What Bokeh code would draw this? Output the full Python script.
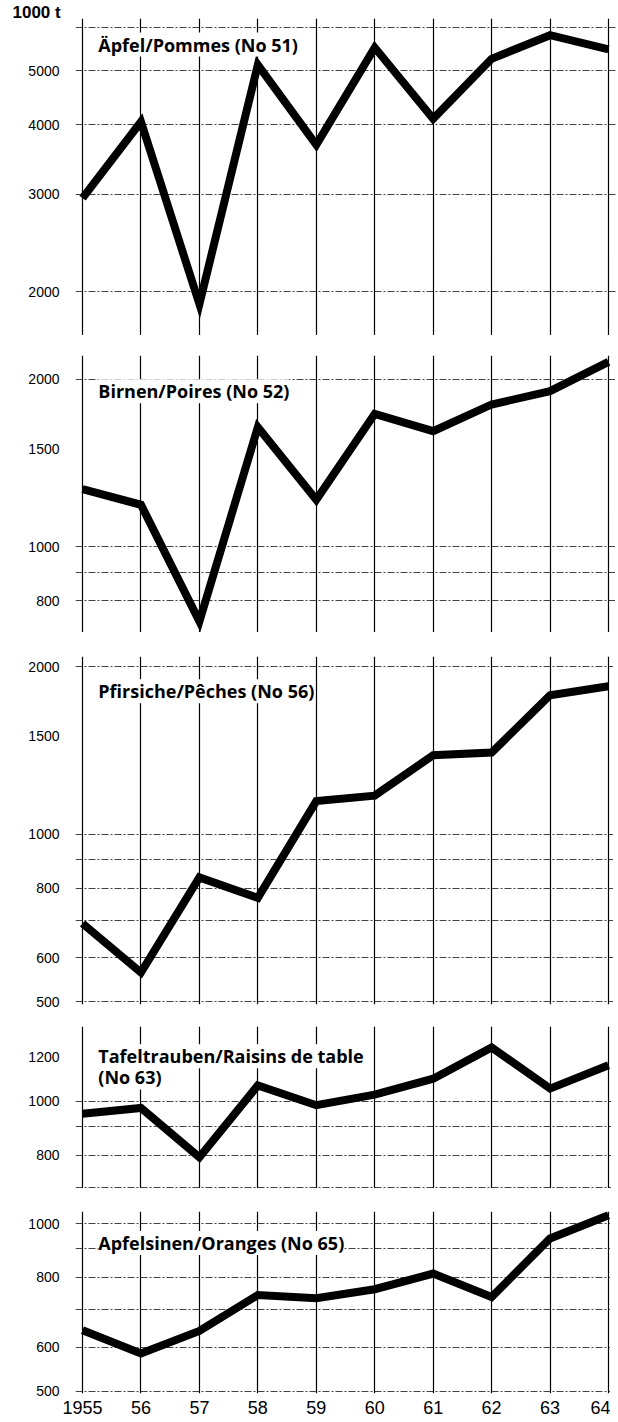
from bokeh.plotting import figure
from bokeh.layouts import column
from bokeh.models import FixedTicker, Range1d, Label, NumeralTickFormatter
from bokeh.embed import file_html
from bokeh.resources import INLINE

years = [1955, 1956, 1957, 1958, 1959, 1960, 1961, 1962, 1963, 1964]
year_labels = ["1955", "56", "57", "58", "59", "60", "61", "62", "63", "64"]

apples = [2950, 4050, 1900, 5130, 3680, 5510, 4100, 5260, 5800, 5470]
pears = [1270, 1190, 735, 1640, 1215, 1733, 1613, 1801, 1903, 2148]
peaches = [691, 564, 836, 768, 1147, 1173, 1387, 1402, 1778, 1845]
grapes = [950, 973, 793, 1068, 984, 1028, 1098, 1250, 1054, 1161]
oranges = [643, 584, 641, 744, 734, 762, 813, 738, 940, 1035]

titles = [["Äpfel/Pommes (No 51)"], ["Birnen/Poires (No 52)"], ["Pfirsiche/Pêches (No 56)"],
          ["Tafeltrauben/Raisins de table", "(No 63)"], ["Apfelsinen/Oranges (No 65)"]]
title_y = [[5580], [1903], [1808], [1205, 1104], [923]]
unit_label = "1000 t"

tick_labels = [[2000, 3000, 4000, 5000], [800, 1000, 1500, 2000], [500, 600, 800, 1000, 1500, 2000],
               [800, 1000, 1200], [500, 600, 800, 1000]]
grid_vals = [[2000, 3000, 4000, 5000, 6000], [700, 800, 900, 1000, 2000],
             [500, 600, 700, 800, 900, 1000, 2000], [700, 800, 900, 1000], [500, 600, 700, 800, 900, 1000]]
y_ranges = [(1668, 6217), (702, 2205), (494, 2087), (697, 1363), (495, 1051)]

series = [apples, pears, peaches, grapes, oranges]

# layout (pixels)
frame_heights = [317, 277, 348, 162, 182]
border_tops = [18, 20, 24, 14, 23]
border_bottoms = [0, 0, 8, 0, 27]
border_lefts = [75, 74, 72, 70, 69]
FRAME_W = 541
X_START, X_END = 1954.88, 1964.137

TICK_FONT = "'Liberation Sans', Arial, sans-serif"
TITLE_FONT = "'Open Sans', Lato, sans-serif"

figs = []
for i in range(5):
    last = (i == 4)
    p = figure(frame_width=FRAME_W, frame_height=frame_heights[i], y_axis_type="log",
               x_range=Range1d(X_START, X_END), y_range=Range1d(*y_ranges[i]),
               output_backend="svg", toolbar_location=None,
               min_border_left=border_lefts[i], min_border_right=0,
               min_border_top=border_tops[i], min_border_bottom=border_bottoms[i],
               x_axis_location="below" if last else None)
    p.outline_line_color = None
    p.background_fill_color = "white"
    p.border_fill_color = "white"

    # vertical grid
    p.xgrid.ticker = FixedTicker(ticks=years)
    p.xgrid.grid_line_color = "black"
    p.xgrid.grid_line_width = 1.2
    # horizontal grid
    p.ygrid.ticker = FixedTicker(ticks=grid_vals[i])
    p.ygrid.grid_line_color = "#222222"
    p.ygrid.grid_line_width = 1
    p.ygrid.grid_line_dash = "7 2 2 2"
    p.ygrid.grid_line_alpha = 0.85

    yax = p.yaxis[0]
    yax.ticker = FixedTicker(ticks=tick_labels[i])
    yax.formatter = NumeralTickFormatter(format="0")
    yax.axis_line_color = None
    yax.major_tick_line_color = None
    yax.minor_tick_line_color = None
    yax.major_label_standoff = 10
    yax.major_label_text_font = TICK_FONT
    yax.major_label_text_font_size = "14px"
    yax.major_label_text_color = "black"
    yax.major_label_text_baseline = "alphabetic"

    if last:
        xax = p.xaxis[0]
        xax.ticker = FixedTicker(ticks=years)
        xax.major_label_overrides = {y: l for y, l in zip(years, year_labels)}
        xax.axis_line_color = None
        xax.major_tick_line_color = None
        xax.minor_tick_line_color = None
        xax.major_tick_out = 0
        xax.major_tick_in = 0
        xax.major_label_standoff = 7
        xax.major_label_text_font = TICK_FONT
        xax.major_label_text_font_size = "18px"
        xax.major_label_text_color = "black"

    p.line(years, series[i], line_color="black", line_width=8, line_join="miter")

    for t, ty in zip(titles[i], title_y[i]):
        p.add_layout(Label(x=1955.27, y=ty, text=t, text_font=TITLE_FONT,
                           text_font_size="18px", text_font_style="bold",
                           text_color="black", text_baseline="alphabetic",
                           background_fill_color="white", background_fill_alpha=1.0))
    if i == 0:
        p.title.text = unit_label
        p.title.align = "left"
        p.title.offset = -63
        p.title.standoff = -6
        p.title.text_font = TICK_FONT
        p.title.text_font_size = "17px"
        p.title.text_font_style = "bold"
        p.title.text_color = "black"
    figs.append(p)

layout = column(*figs, spacing=0)
open("out.html", "w").write(file_html(layout, INLINE))
